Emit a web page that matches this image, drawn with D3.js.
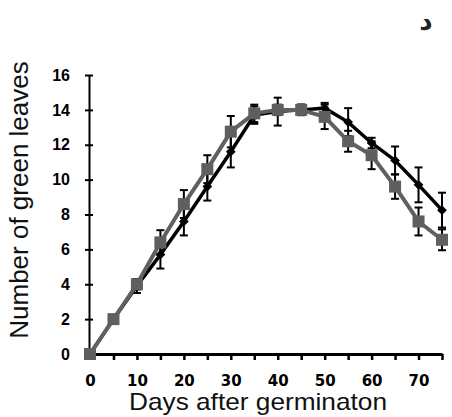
<!DOCTYPE html>
<html>
<head>
<meta charset="utf-8">
<script src="https://cdn.jsdelivr.net/npm/d3@7"></script>
<style>
  body { margin: 0; background: #fff; }
</style>
</head>
<body>
<div id="chart"></div>
<script>
(function () {

// days after germination
const days = [0, 5, 10, 15, 20, 25, 30, 35, 40, 45, 50, 55, 60, 65, 70, 75];
// black diamonds
const seriesA = [0, 2, 3.9, 5.7, 7.6, 9.6, 11.6, 13.7, 13.9, 14.0, 14.1, 13.3, 12.1, 11.1, 9.7, 8.25];
const errA    = [0, 0, 0.4, 0.8, 0.8, 0.8, 0.9, 0.5, 0.8, 0.3, 0.3, 0.8, 0.3, 0.8, 1.0, 1.0];
// grey squares
const seriesB = [0, 2, 4.0, 6.4, 8.6, 10.6, 12.75, 13.8, 14.0, 14.0, 13.6, 12.2, 11.4, 9.6, 7.6, 6.55];
const errB    = [0, 0, 0.3, 0.7, 0.8, 0.8, 0.9, 0.5, 0.3, 0.3, 0.7, 0.6, 0.8, 0.7, 0.8, 0.6];

const yTicks = [0, 2, 4, 6, 8, 10, 12, 14, 16];
const xTickLabels = [0, 10, 20, 30, 40, 50, 60, 70];

const W = 452, H = 417;
const svg = d3.select("#chart").append("svg")
    .attr("width", W)
    .attr("height", H);

const x = d3.scaleLinear().domain([0, 75]).range([90, 442]);
const y = d3.scaleLinear().domain([0, 16]).range([354, 75]);

// y axis (ticks cross the axis line)
const yAxis = svg.append("g")
    .attr("transform", "translate(89,0)")
    .call(d3.axisLeft(y).tickValues(yTicks).tickSize(4).tickPadding(15).tickSizeOuter(0));
yAxis.select(".domain").attr("stroke", "#000").attr("stroke-width", 2);
yAxis.selectAll(".tick line").attr("x1", 4).attr("stroke", "#000").attr("stroke-width", 2);
yAxis.selectAll(".tick text")
    .attr("font-family", "Liberation Sans, Arial, sans-serif")
    .attr("font-weight", "bold")
    .attr("font-size", 16)
    .attr("fill", "#000");

// x axis, ticks every 5, labels every 10
const xAxis = svg.append("g")
    .attr("transform", "translate(0,354)")
    .call(d3.axisBottom(x).tickValues(days).tickSize(6).tickPadding(15).tickSizeOuter(0)
      .tickFormat(d => xTickLabels.includes(d) ? d : ""));
xAxis.select(".domain").attr("stroke", "#000").attr("stroke-width", 3);
xAxis.selectAll(".tick line").attr("stroke", "#000").attr("stroke-width", 2.5);
xAxis.selectAll(".tick text")
    .attr("font-family", "DejaVu Sans, Verdana, sans-serif")
    .attr("font-weight", "bold")
    .attr("font-size", 15)
    .attr("fill", "#000");

// axis titles
svg.append("text")
    .attr("x", 258).attr("y", 410)
    .attr("text-anchor", "middle")
    .attr("font-family", "Liberation Sans, Arial, sans-serif")
    .attr("font-size", 24)
    .attr("textLength", 258)
    .attr("lengthAdjust", "spacingAndGlyphs")
    .attr("fill", "#111")
    .text("Days after germinaton");

svg.append("text")
    .attr("transform", "translate(28,200) rotate(-90)")
    .attr("text-anchor", "middle")
    .attr("font-family", "Liberation Sans, Arial, sans-serif")
    .attr("font-size", 26)
    .attr("fill", "#111")
    .text("Number of green leaves");

// panel letter
svg.append("text")
    .attr("x", 426).attr("y", 30)
    .attr("text-anchor", "middle")
    .attr("font-family", "DejaVu Sans, sans-serif")
    .attr("font-weight", "bold")
    .attr("font-size", 26)
    .attr("fill", "#222")
    .text("د");

function drawErrors(vals, errs) {
  const g = svg.append("g").attr("stroke", "#000").attr("stroke-width", 2);
  days.forEach((d, i) => {
    if (!errs[i]) return;
    const cx = x(d), y1 = y(vals[i] - errs[i]), y2 = y(vals[i] + errs[i]);
    g.append("line").attr("x1", cx).attr("x2", cx).attr("y1", y1).attr("y2", y2);
    g.append("line").attr("x1", cx - 4).attr("x2", cx + 4).attr("y1", y1).attr("y2", y1);
    g.append("line").attr("x1", cx - 4).attr("x2", cx + 4).attr("y1", y2).attr("y2", y2);
  });
}

const line = d3.line().x((d, i) => x(days[i])).y(d => y(d));

// black series
drawErrors(seriesA, errA);
svg.append("path")
    .datum(seriesA)
    .attr("d", line)
    .attr("fill", "none")
    .attr("stroke", "#000")
    .attr("stroke-width", 3.5);
svg.append("g").selectAll("path")
  .data(seriesA)
  .join("path")
    .attr("d", d3.symbol(d3.symbolDiamond2, 60))
    .attr("transform", (d, i) => "translate(" + x(days[i]) + "," + y(d) + ")")
    .attr("fill", "#000");

// grey series
drawErrors(seriesB, errB);
svg.append("path")
    .datum(seriesB)
    .attr("d", line)
    .attr("fill", "none")
    .attr("stroke", "#606060")
    .attr("stroke-width", 4);
svg.append("g").selectAll("rect")
  .data(seriesB)
  .join("rect")
    .attr("x", (d, i) => x(days[i]) - 6)
    .attr("y", d => y(d) - 6)
    .attr("width", 12)
    .attr("height", 12)
    .attr("fill", "#5f5f5f");

})()
</script>
</body>
</html>
